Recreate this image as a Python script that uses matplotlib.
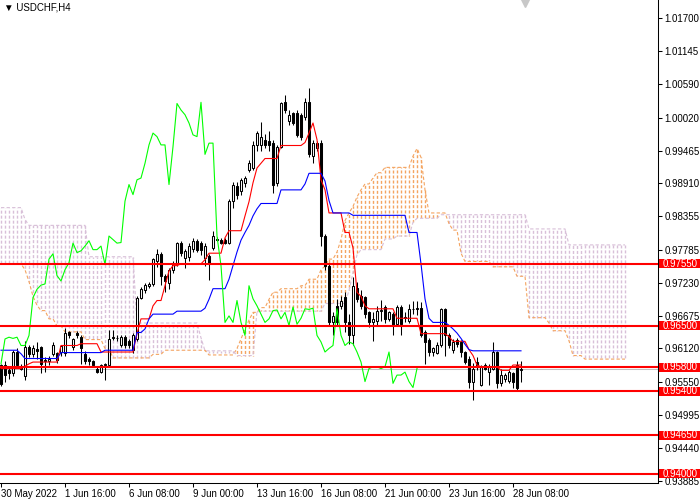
import matplotlib
matplotlib.use("Agg")
import matplotlib.pyplot as plt
import matplotlib.transforms as mtransforms
from matplotlib.patches import Rectangle
import numpy as np

plt.rcParams['font.family'] = ['Liberation Sans', 'DejaVu Sans']

# H4 candles, bar 0 = 30 May 2022 00:00
opens = [
    0.9584, 0.9584, 0.9576, 0.9570, 0.9606, 0.9583, 0.9566, 0.9614, 0.9603, 0.9611,
    0.9614, 0.9592, 0.9590, 0.9603, 0.9604, 0.9606, 0.9604, 0.9640, 0.9614, 0.9638,
    0.9631, 0.9603, 0.9594, 0.9590, 0.9578, 0.9573, 0.9584, 0.9584, 0.9630, 0.9630,
    0.9617, 0.9631, 0.9625, 0.9609, 0.9628, 0.9698, 0.9710, 0.9718, 0.9721, 0.9760,
    0.9772, 0.9735, 0.9722, 0.9745, 0.9757, 0.9790, 0.9765, 0.9766, 0.9780, 0.9793,
    0.9790, 0.9765, 0.9768, 0.9782, 0.9797, 0.9796, 0.9796, 0.9791, 0.9861, 0.9887,
    0.9878, 0.9891, 0.9914, 0.9917, 0.9956, 0.9956, 0.9965, 0.9962, 0.9959, 0.9892,
    0.9953, 1.0028, 0.9996, 1.0010, 1.0010, 1.0007, 1.0004, 1.0029, 0.9937, 0.9951,
    0.9959, 0.9802, 0.9752, 0.9656, 0.9684, 0.9684, 0.9699, 0.9656, 0.9634, 0.9715,
    0.9701, 0.9699, 0.9673, 0.9656, 0.9659, 0.9675, 0.9682, 0.9662, 0.9670, 0.9653,
    0.9682, 0.9665, 0.9659, 0.9679, 0.9679, 0.9680, 0.9640, 0.9626, 0.9606, 0.9605,
    0.9617, 0.9679, 0.9634, 0.9609, 0.9626, 0.9623, 0.9606, 0.9595, 0.9556, 0.9589,
    0.9550, 0.9584, 0.9572, 0.9578, 0.9606, 0.9553, 0.9560, 0.9557, 0.9570, 0.9584,
    0.9576]
highs = [
    0.9586, 0.9590, 0.9580, 0.9610, 0.9612, 0.9586, 0.9625, 0.9618, 0.9618, 0.9623,
    0.9616, 0.9598, 0.9600, 0.9623, 0.9606, 0.9618, 0.9647, 0.9642, 0.9630, 0.9642,
    0.9634, 0.9608, 0.9598, 0.9592, 0.9582, 0.9586, 0.9588, 0.9643, 0.9643, 0.9635,
    0.9634, 0.9634, 0.9628, 0.9638, 0.9701, 0.9716, 0.9722, 0.9725, 0.9765, 0.9780,
    0.9775, 0.9738, 0.9748, 0.9760, 0.9792, 0.9793, 0.9780, 0.9790, 0.9798, 0.9797,
    0.9793, 0.9790, 0.9772, 0.9810, 0.9800, 0.9798, 0.9798, 0.9864, 0.9893, 0.9893,
    0.9900, 0.9904, 0.9931, 0.9962, 0.9979, 0.9994, 0.9975, 0.9979, 0.9965, 0.9956,
    1.0029, 1.0040, 1.0015, 1.0012, 1.0015, 1.0010, 1.0035, 1.0052, 0.9965, 0.9962,
    0.9965, 0.9806, 0.9755, 0.9673, 0.9696, 0.9701, 0.9707, 0.9670, 0.9732, 0.9724,
    0.9710, 0.9701, 0.9676, 0.9673, 0.9684, 0.9694, 0.9686, 0.9676, 0.9674, 0.9685,
    0.9685, 0.9673, 0.9687, 0.9692, 0.9692, 0.9690, 0.9643, 0.9630, 0.9615, 0.9623,
    0.9681, 0.9681, 0.9638, 0.9628, 0.9630, 0.9626, 0.9608, 0.9600, 0.9587, 0.9597,
    0.9584, 0.9587, 0.9586, 0.9623, 0.9608, 0.9578, 0.9570, 0.9575, 0.9572, 0.9590,
    0.9590]
lows = [
    0.9548, 0.9555, 0.9560, 0.9565, 0.9580, 0.9575, 0.9558, 0.9598, 0.9598, 0.9595,
    0.9571, 0.9572, 0.9584, 0.9600, 0.9588, 0.9600, 0.9600, 0.9630, 0.9610, 0.9630,
    0.9586, 0.9586, 0.9584, 0.9580, 0.9570, 0.9570, 0.9558, 0.9582, 0.9626, 0.9625,
    0.9615, 0.9612, 0.9612, 0.9605, 0.9625, 0.9695, 0.9706, 0.9715, 0.9718, 0.9750,
    0.9720, 0.9708, 0.9712, 0.9740, 0.9752, 0.9768, 0.9748, 0.9760, 0.9775, 0.9775,
    0.9770, 0.9752, 0.9727, 0.9778, 0.9793, 0.9788, 0.9788, 0.9789, 0.9850, 0.9865,
    0.9872, 0.9885, 0.9911, 0.9914, 0.9945, 0.9945, 0.9950, 0.9945, 0.9875, 0.9886,
    0.9950, 1.0010, 0.9990, 0.9990, 0.9970, 0.9965, 0.9998, 0.9935, 0.9925, 0.9945,
    0.9785, 0.9745, 0.9650, 0.9634, 0.9651, 0.9679, 0.9640, 0.9620, 0.9618, 0.9690,
    0.9679, 0.9664, 0.9648, 0.9625, 0.9650, 0.9659, 0.9655, 0.9658, 0.9634, 0.9650,
    0.9634, 0.9656, 0.9655, 0.9670, 0.9668, 0.9632, 0.9586, 0.9600, 0.9600, 0.9602,
    0.9615, 0.9600, 0.9612, 0.9605, 0.9614, 0.9598, 0.9585, 0.9545, 0.9525, 0.9575,
    0.9548, 0.9575, 0.9550, 0.9575, 0.9545, 0.9548, 0.9555, 0.9553, 0.9545, 0.9541,
    0.9555]
closes = [
    0.9552, 0.9567, 0.9570, 0.9606, 0.9584, 0.9578, 0.9614, 0.9603, 0.9613, 0.9608,
    0.9586, 0.9590, 0.9594, 0.9617, 0.9592, 0.9616, 0.9638, 0.9634, 0.9628, 0.9634,
    0.9612, 0.9590, 0.9590, 0.9584, 0.9573, 0.9584, 0.9586, 0.9628, 0.9631, 0.9629,
    0.9631, 0.9617, 0.9617, 0.9634, 0.9698, 0.9712, 0.9719, 0.9721, 0.9763, 0.9772,
    0.9735, 0.9726, 0.9745, 0.9757, 0.9790, 0.9774, 0.9777, 0.9785, 0.9794, 0.9779,
    0.9779, 0.9785, 0.9754, 0.9802, 0.9796, 0.9790, 0.9791, 0.9861, 0.9889, 0.9872,
    0.9897, 0.9900, 0.9925, 0.9956, 0.9976, 0.9970, 0.9956, 0.9956, 0.9889, 0.9953,
    1.0026, 1.0015, 1.0007, 0.9993, 0.9973, 0.9970, 1.0028, 0.9940, 0.9959, 0.9959,
    0.9802, 0.9752, 0.9656, 0.9667, 0.9656, 0.9693, 0.9656, 0.9634, 0.9718, 0.9696,
    0.9684, 0.9670, 0.9656, 0.9662, 0.9676, 0.9677, 0.9662, 0.9673, 0.9651, 0.9682,
    0.9653, 0.9663, 0.9679, 0.9678, 0.9680, 0.9634, 0.9623, 0.9606, 0.9612, 0.9617,
    0.9679, 0.9634, 0.9617, 0.9623, 0.9620, 0.9606, 0.9589, 0.9556, 0.9578, 0.9581,
    0.9581, 0.9578, 0.9581, 0.9606, 0.9553, 0.9567, 0.9567, 0.9572, 0.9556, 0.9546,
    0.9578]

# Ichimoku lines (one value per bar)
tenkan = ([0.9578] * 6 + [0.9582, 0.9586] + [0.9589] * 7 + [0.9617] * 5 + [0.9620] * 5
          + [0.9606] * 9 + [0.9637] + [0.9662] * 3 + [0.9684] + [0.9693] * 2 + [0.9718, 0.9743]
          + [0.9752] * 2 + [0.9755] * 6 + [0.9762] + [0.9773] * 4 + [0.9799] + [0.9811] * 4
          + [0.9836, 0.9860, 0.9892, 0.9917, 0.9925] + [0.9933] * 4 + [0.9955] * 6
          + [0.9960, 0.9976, 0.9993, 0.9965, 0.9897, 0.9880] + [0.9841] * 4 + [0.9808] * 2
          + [0.9782, 0.9707, 0.9700, 0.9684] + [0.9679] * 7 + [0.9663] * 6 + [0.9637] * 7
          + [0.9632] + [0.9624] * 4 + [0.9610, 0.9600, 0.9584] + [0.9581] * 5 + [0.9575] * 3
          + [0.9584] * 3)
kijun = ([0.9609] * 5 + [0.9603] + [0.9595] * 9 + [0.9605] * 11 + [0.9609] * 8 + [0.9639] * 2
         + [0.9645, 0.9662] + [0.9670] * 6 + [0.9675] * 7 + [0.9680, 0.9695] + [0.9713] * 4
         + [0.9729, 0.9752, 0.9775, 0.9795, 0.9808, 0.9820, 0.9836, 0.9848] + [0.9857] * 5
         + [0.9880] * 6 + [0.9890] + [0.9908] * 4 + [0.9895, 0.9862] + [0.9841] * 5
         + [0.9837] * 14 + [0.9808] * 3 + [0.9755, 0.9696, 0.9663] + [0.9656] * 4
         + [0.9651, 0.9645, 0.9638, 0.9629, 0.9619, 0.9610] + [0.9608] * 13)
senkou_a = ([0.9755] * 6 + [0.9745, 0.9725, 0.9700, 0.9685] + [0.9676] * 2 + [0.9662] * 2
            + [0.9650] * 2 + [0.9640] * 5 + [0.9627] * 5 + [0.9612] * 2 + [0.9596] * 10
            + [0.9602] * 3 + [0.9609] * 11 + [0.9601] * 7 + [0.9612, 0.9628, 0.9645, 0.9660]
            + [0.9673] * 2 + [0.9681] * 2 + [0.9695] + [0.9707] * 2 + [0.9713] * 5 + [0.9718] * 2
            + [0.9729] * 3 + [0.9745, 0.9751] + [0.9763] * 2
            + [0.9775, 0.9796, 0.9828, 0.9841, 0.9852, 0.9868, 0.9880] + [0.9890] * 2 + [0.9900]
            + [0.9909] * 2 + [0.9918] * 7 + [0.9937, 0.9950, 0.9935, 0.9880] + [0.9841] * 5
            + [0.9823] + [0.9812] * 2 + [0.9773] + [0.9759] * 7 + [0.9750] * 6 + [0.9734] * 3
            + [0.9664] * 5 + [0.9655] + [0.9642] * 4 + [0.9625] + [0.9600] * 3 + [0.9594] * 11)
senkou_b = ([0.9850] * 6 + [0.9830] + [0.9820] * 15 + [0.9767] * 12 + [0.9655] * 16 + [0.9630]
            + [0.9608] * 8 + [0.9600] * 5 + [0.9675] * 17 + [0.9688] * 6 + [0.9710, 0.9740, 0.9770]
            + [0.9779] * 6 + [0.9797] * 3 + [0.9802] * 4 + [0.9825] + [0.9832] * 6
            + [0.9838] * 22 + [0.9814] * 10 + [0.9787] * 15)

levels = [0.9755, 0.9650, 0.9580, 0.9540, 0.9465, 0.9400]

ytick_labels = ['1.01700', '1.01145', '1.00590', '1.00020', '0.99465', '0.98910', '0.98355',
                '0.97785', '0.97230', '0.96675', '0.96120', '0.95550', '0.94995', '0.94440',
                '0.93885']
xtick_bars = [0, 16, 32, 48, 64, 80, 96, 112, 128]
xtick_labels = ['30 May 2022', '1 Jun 16:00', '6 Jun 08:00', '9 Jun 00:00', '13 Jun 16:00',
                '16 Jun 08:00', '21 Jun 00:00', '23 Jun 16:00', '28 Jun 08:00']

y_lo, y_hi = 0.93846, 1.02009
plot_h_px = 483

fig = plt.figure(figsize=(7, 5), dpi=100)
ax = fig.add_axes([0, 17 / 500, 658 / 700, plot_h_px / 500])
ax.set_xlim(-0.25, 164.25)
ax.set_ylim(y_lo, y_hi)

orange = '#f4a460'
thistle = '#d8bfd8'

# cloud: dashed vertical hatch between span A and span B, dashes kept in rows
hatch_lw = 1.0
px = 0.72  # points per pixel
pt_per_unit = plot_h_px * px / (y_hi - y_lo)
period = 5 * px
for i, (va, vb) in enumerate(zip(senkou_a, senkou_b)):
    lo, hi = min(va, vb), max(va, vb)
    phase = ((lo - y_lo) * pt_per_unit) % period
    style = (phase / hatch_lw, (3 * px / hatch_lw, 2 * px / hatch_lw))
    ax.plot([i, i], [lo, hi], color=orange if va >= vb else thistle, lw=hatch_lw,
            ls=style, zorder=1)
xc = np.arange(len(senkou_a))
ax.plot(xc, senkou_a, color=orange, lw=0.8, ls=(0, (3, 2)), zorder=1)
ax.plot(xc, senkou_b, color=thistle, lw=0.8, ls=(0, (3, 2)), zorder=1)

# bid line
ax.axhline(closes[-1], color='#c0c0c0', lw=0.75, zorder=1.5)

# candles
o = np.array(opens)
h = np.array(highs)
l = np.array(lows)
c = np.array(closes)
x = np.arange(len(c))
up = c >= o
ax.vlines(x, l, h, color='black', linewidth=0.75, zorder=2)
body_lo = np.minimum(o, c)
body_h = np.maximum(np.abs(c - o), 0.00003)
ax.bar(x[up], body_h[up], bottom=body_lo[up], width=0.5, facecolor='white',
       edgecolor='black', linewidth=0.75, zorder=2.5)
ax.bar(x[~up], body_h[~up], bottom=body_lo[~up], width=0.5, facecolor='black',
       edgecolor='black', linewidth=0.75, zorder=2.5)

# tenkan, kijun, chikou
ax.plot(x, tenkan, color='red', lw=0.8, zorder=3)
ax.plot(x, kijun, color='blue', lw=0.8, zorder=3)
ax.plot(x[:len(c) - 26], c[26:], color='lime', lw=0.8, zorder=3)

# horizontal levels
for lv in levels:
    ax.axhline(lv, color='red', lw=1.5, zorder=4)

# axes styling
for side in ['top', 'left']:
    ax.spines[side].set_visible(False)
for side in ['right', 'bottom']:
    ax.spines[side].set_linewidth(0.75)
ax.yaxis.tick_right()
ax.set_yticks([float(s) for s in ytick_labels])
ax.set_yticklabels(ytick_labels)
ax.set_xticks(xtick_bars)
ax.set_xticklabels(xtick_labels, ha='left')
ax.tick_params(axis='both', direction='out', length=3, width=0.75, labelsize=7, pad=1.5)

# price labels on the axis
trans = mtransforms.blended_transform_factory(ax.transAxes, ax.transData)
box_h = 9 / 5917
ax.add_patch(Rectangle((1 + 1 / 658, closes[-1] - box_h * 0.4), 42 / 658, box_h,
                       transform=trans, facecolor='black', edgecolor='none',
                       clip_on=False, zorder=5))
for lv in levels:
    ax.add_patch(Rectangle((1 + 1 / 658, lv - box_h / 2), 42 / 658, box_h,
                           transform=trans, facecolor='red', edgecolor='none',
                           clip_on=False, zorder=6))
    ax.text(1 + 5 / 658, lv, f'{lv:.5f}', transform=trans, color='white', fontsize=7,
            ha='left', va='center', clip_on=False, zorder=7)

# shift marker and title
ax.plot([131], [1.0196], marker='v', ms=6, color='#c8c8c8', clip_on=False, zorder=5)
fig.text(4 / 700, 1 - 8 / 500, '\u25bc USDCHF,H4', fontsize=7, ha='left', va='center')

fig.savefig('out.png', dpi=100, facecolor='white')
